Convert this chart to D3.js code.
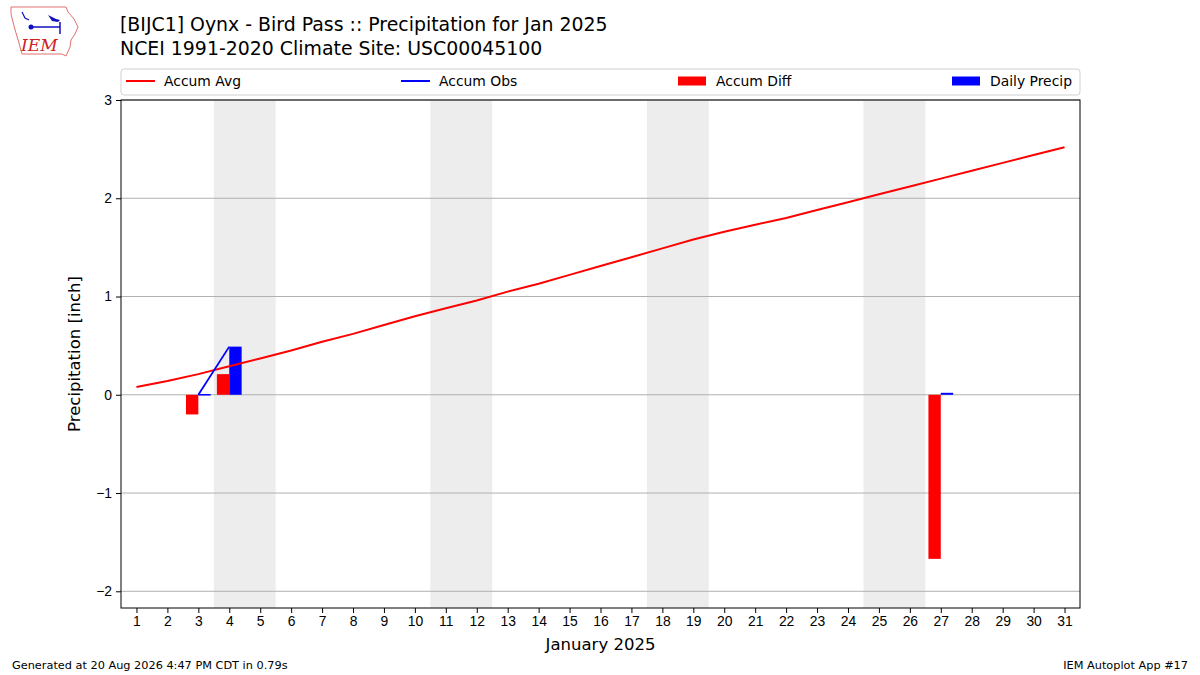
<!DOCTYPE html>
<html>
<head>
<meta charset="utf-8">
<script src="https://cdn.jsdelivr.net/npm/d3@7"></script>
<style>
  body { margin: 0; background: #fff; }
  svg { font-family: "DejaVu Sans", sans-serif; }
  .axis text { font-size: 13.9px; fill: #000; }
  .axis path, .axis line { stroke: #000; }
</style>
</head>
<body>
<div id="chart"></div>
<script>
// January 2025 days
const days = d3.range(1, 32);

// climatology accumulated precip (inch)
const accumAvg = [0.08, 0.14, 0.21, 0.29, 0.37, 0.45, 0.54, 0.62, 0.71, 0.80,
  0.88, 0.96, 1.05, 1.13, 1.22, 1.31, 1.40, 1.49, 1.58, 1.66,
  1.73, 1.80, 1.88, 1.96, 2.04, 2.12, 2.20, 2.28, 2.36, 2.44, 2.52];

// observed accumulation, missing where no report
const accumObs = [null, null, 0.00, 0.49, null, null, null, null, null, null,
  null, null, null, null, null, null, null, null, null, null,
  null, null, null, null, null, null, 0.51, null, null, null, null];

// departure bars (only days with obs)
const diffDays = [3, 4, 27];
const accumDiff = [-0.20, 0.21, -1.67];

const precipDays = [3, 4, 27];
const dailyPrecip = [0.00, 0.49, 0.02];

// weekend days shaded
const weekendStarts = [4, 11, 18, 25];

const yTicks = [-2, -1, 0, 1, 2, 3];

const W = 1200, H = 675;
const margin = {top: 100, right: 120, bottom: 67, left: 121};
const width = W - margin.left - margin.right;
const height = H - margin.top - margin.bottom;

const svg = d3.select("#chart").append("svg")
    .attr("width", W)
    .attr("height", H);

const x = d3.scaleLinear().domain([0.5, 31.5]).range([0, width]);
const y = d3.scaleLinear().domain([-2.17, 3]).range([height, 0]);

const plot = svg.append("g")
    .attr("transform", `translate(${margin.left},${margin.top})`);

// weekend shading
plot.selectAll(".wkend")
    .data(weekendStarts)
    .enter().append("rect")
    .attr("class", "wkend")
    .attr("x", d => x(d - 0.5))
    .attr("y", 0)
    .attr("width", d => x(d + 1.5) - x(d - 0.5))
    .attr("height", height)
    .attr("fill", "#ededed");

// grid
plot.selectAll(".grid")
    .data(yTicks)
    .enter().append("line")
    .attr("class", "grid")
    .attr("x1", 0).attr("x2", width)
    .attr("y1", d => y(d)).attr("y2", d => y(d))
    .attr("stroke", "#b0b0b0")
    .attr("stroke-width", 1);

// accum diff bars (left of day)
plot.selectAll(".diff")
    .data(diffDays.map((d, i) => ({day: d, v: accumDiff[i]})))
    .enter().append("rect")
    .attr("class", "diff")
    .attr("x", d => x(d.day - 0.4))
    .attr("width", x(0.9) - x(0.5))
    .attr("y", d => y(Math.max(0, d.v)))
    .attr("height", d => Math.abs(y(d.v) - y(0)))
    .attr("fill", "#ff0000");

// daily precip bars (right of day)
plot.selectAll(".precip")
    .data(precipDays.map((d, i) => ({day: d, v: dailyPrecip[i]})))
    .enter().append("rect")
    .attr("class", "precip")
    .attr("x", d => x(d.day))
    .attr("width", x(0.9) - x(0.5))
    .attr("y", d => y(d.v) - (d.v === 0 ? 0.75 : 0))
    .attr("height", d => Math.max(1.5, y(0) - y(d.v)))
    .attr("fill", "#0000ff");

// lines
const avgLine = d3.line()
    .x((d, i) => x(days[i]))
    .y(d => y(d));

plot.append("path")
    .datum(accumAvg)
    .attr("d", avgLine)
    .attr("fill", "none")
    .attr("stroke", "#ff0000")
    .attr("stroke-width", 2);

const obsLine = d3.line()
    .defined(d => d !== null)
    .x((d, i) => x(days[i]))
    .y(d => y(d));

plot.append("path")
    .datum(accumObs)
    .attr("d", obsLine)
    .attr("fill", "none")
    .attr("stroke", "#0000ff")
    .attr("stroke-width", 1.8);

// axes
plot.append("g")
    .attr("class", "axis axis--x")
    .attr("transform", `translate(0,${height})`)
    .call(d3.axisBottom(x).tickValues(days).tickSize(5).tickPadding(3).tickFormat(d3.format("d")));

plot.append("g")
    .attr("class", "axis axis--y")
    .call(d3.axisLeft(y).tickValues(yTicks).tickSize(5).tickPadding(4)
        .tickFormat(d => d < 0 ? "\u2212" + Math.abs(d) : d));

plot.selectAll(".axis .domain").remove();

// frame
plot.append("rect")
    .attr("width", width).attr("height", height)
    .attr("fill", "none").attr("stroke", "#000").attr("stroke-width", 1);

// axis labels
svg.append("text")
    .attr("x", margin.left + width / 2)
    .attr("y", 650)
    .attr("text-anchor", "middle")
    .attr("font-size", 16.5)
    .text("January 2025");

svg.append("text")
    .attr("transform", `translate(80,${margin.top + height / 2}) rotate(-90)`)
    .attr("text-anchor", "middle")
    .attr("font-size", 16.5)
    .text("Precipitation [inch]");

// titles
svg.append("text").attr("x", 120).attr("y", 31).attr("font-size", 18.9)
    .text("[BIJC1] Oynx - Bird Pass :: Precipitation for Jan 2025");
svg.append("text").attr("x", 120).attr("y", 55).attr("font-size", 18.9)
    .text("NCEI 1991-2020 Climate Site: USC00045100");

// legend
const legend = svg.append("g");
legend.append("rect")
    .attr("x", 121).attr("y", 69).attr("width", 959).attr("height", 26)
    .attr("rx", 3).attr("fill", "#fff").attr("stroke", "#d0d0d0");

const legendItems = [
  {label: "Accum Avg", color: "#ff0000", type: "line", x: 126},
  {label: "Accum Obs", color: "#0000ff", type: "line", x: 401},
  {label: "Accum Diff", color: "#ff0000", type: "rect", x: 678},
  {label: "Daily Precip", color: "#0000ff", type: "rect", x: 952}
];
legendItems.forEach(it => {
  if (it.type === "line") {
    legend.append("line")
        .attr("x1", it.x).attr("x2", it.x + 29).attr("y1", 81).attr("y2", 81)
        .attr("stroke", it.color).attr("stroke-width", 2);
  } else {
    legend.append("rect")
        .attr("x", it.x).attr("y", 76.5).attr("width", 28).attr("height", 9)
        .attr("fill", it.color);
  }
  legend.append("text")
      .attr("x", it.x + 38).attr("y", 86)
      .attr("font-size", 13.9)
      .text(it.label);
});

// footer
svg.append("text").attr("x", 12).attr("y", 669).attr("font-size", 11.3)
    .text("Generated at 20 Aug 2026 4:47 PM CDT in 0.79s");
svg.append("text").attr("x", 1188).attr("y", 669).attr("font-size", 11.3)
    .attr("text-anchor", "end")
    .text("IEM Autoplot App #17");

// IEM logo, rough sketch
const logo = svg.append("g");
logo.append("path")
    .attr("d", "M11,7 L66,7 L68,12 L74,19 L78,27 L75,34 L71,40 L70,47 L66,56 L62,54 L22,54 L19,43 L16,33 L13,22 L11,14 Z")
    .attr("fill", "none").attr("stroke", "#e07070").attr("stroke-width", 1);
logo.append("line").attr("x1", 31).attr("y1", 27).attr("x2", 60).attr("y2", 27)
    .attr("stroke", "#1010c0").attr("stroke-width", 1.5);
logo.append("circle").attr("cx", 31).attr("cy", 27).attr("r", 2.5).attr("fill", "#1010c0");
logo.append("path").attr("d", "M48,15 L56,19 L60,20 L58,22 L52,21 Z").attr("fill", "#1010c0");
logo.append("line").attr("x1", 60).attr("y1", 22).attr("x2", 60).attr("y2", 34)
    .attr("stroke", "#1010c0").attr("stroke-width", 1.5);
logo.append("path").attr("d", "M22,12 L25,18 L29,20").attr("fill", "none")
    .attr("stroke", "#1010c0").attr("stroke-width", 1.2);
logo.append("text").attr("x", 21).attr("y", 51)
    .attr("font-family", "'DejaVu Serif', 'Liberation Serif', serif")
    .attr("font-style", "italic").attr("font-size", 17)
    .attr("fill", "#d02020").text("IEM");
</script>
</body>
</html>
